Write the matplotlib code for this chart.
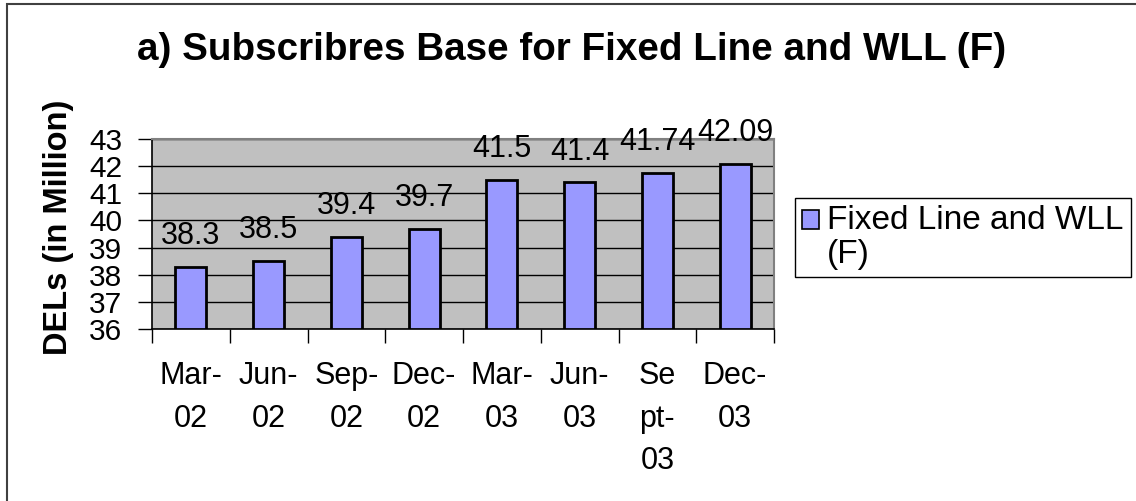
import matplotlib
matplotlib.use("Agg")
import matplotlib.pyplot as plt
from matplotlib.patches import Rectangle, Patch
from matplotlib.legend_handler import HandlerPatch

plt.rcParams['font.family'] = ['Liberation Sans', 'DejaVu Sans']

categories = ["Mar-\n02", "Jun-\n02", "Sep-\n02", "Dec-\n02", "Mar-\n03", "Jun-\n03", "Se\npt-\n03", "Dec-\n03"]
values = [38.3, 38.5, 39.4, 39.7, 41.5, 41.4, 41.74, 42.09]
value_labels = ["38.3", "38.5", "39.4", "39.7", "41.5", "41.4", "41.74", "42.09"]
yticks = [36, 37, 38, 39, 40, 41, 42, 43]
series_name = "Fixed Line and WLL\n(F)"
title = "a) Subscribres Base for Fixed Line and WLL (F)"
ylabel = "DELs (in Million)"

W, H = 1136, 501
fig = plt.figure(figsize=(W / 100, H / 100), dpi=100)
ax = fig.add_axes([152 / W, 1 - 329 / H, (774 - 152) / W, (329 - 139) / H])
ax.set_facecolor('#C0C0C0')

x = list(range(len(values)))
ax.bar(x, [v - 36 for v in values], bottom=36, width=0.4, color='#9999FF',
       edgecolor='black', linewidth=2.0, zorder=3)
ax.set_xlim(-0.5, len(values) - 0.5)
ax.set_ylim(36, 43)
ax.set_yticks(yticks)
ax.set_yticklabels([str(t) for t in yticks], fontsize=21.5)
ax.yaxis.grid(True, color='black', linewidth=1.0, zorder=1)
ax.set_axisbelow(True)

# x ticks at category boundaries, labels at centers
ax.set_xticks([i - 0.5 for i in range(len(values) + 1)])
ax.set_xticklabels([''] * (len(values) + 1))
ax.set_xticks(x, minor=True)
ax.set_xticklabels(categories, minor=True, fontsize=22, linespacing=1.55, va='top')
ax.tick_params(axis='x', which='major', length=10, width=1.0, direction='out')
ax.tick_params(axis='x', which='minor', length=0, pad=23)
ax.tick_params(axis='y', length=10, width=1.0, pad=11.5)

for sp in ['left', 'bottom']:
    ax.spines[sp].set_color('black')
    ax.spines[sp].set_linewidth(1.2)
for sp in ['top', 'right']:
    ax.spines[sp].set_color('#808080')
    ax.spines[sp].set_linewidth(1.5)

for xi, v, lab in zip(x, values, value_labels):
    ax.annotate(lab, (xi, v), xytext=(0, 16.5), textcoords='offset points',
                ha='center', va='baseline', fontsize=22, clip_on=False)

fig.text(58 / W, 1 - 227 / H, ylabel, rotation=90, ha='center', va='center',
         fontsize=23.5, fontweight='bold')
fig.text(572 / W, 1 - 60 / H, title, ha='center', va='baseline', fontsize=27.8,
         fontweight='bold')


def top_square(legend, orig_handle, xdescent, ydescent, width, height, fontsize):
    return Rectangle((-xdescent, -ydescent + 13), width, height)


handle = Patch(facecolor='#9999FF', edgecolor='black', linewidth=1.2)
leg = fig.legend([handle], [series_name], loc='upper left',
                 bbox_to_anchor=(795 / W, 1 - 198 / H), fontsize=24,
                 frameon=True, fancybox=False, framealpha=1, edgecolor='black',
                 borderpad=0.22, handlelength=0.5, handleheight=0.5,
                 handletextpad=0.25, borderaxespad=0,
                 handler_map={Patch: HandlerPatch(patch_func=top_square)})
leg.get_frame().set_linewidth(1.0)
for t in leg.get_texts():
    t.set_linespacing(1.1)

fig.patches.append(Rectangle((7 / W, -0.1), 1.2, 1 - 4 / H + 0.1,
                             transform=fig.transFigure, fill=False,
                             edgecolor='#404040', linewidth=1.5))

fig.savefig('out.png', dpi=100)
